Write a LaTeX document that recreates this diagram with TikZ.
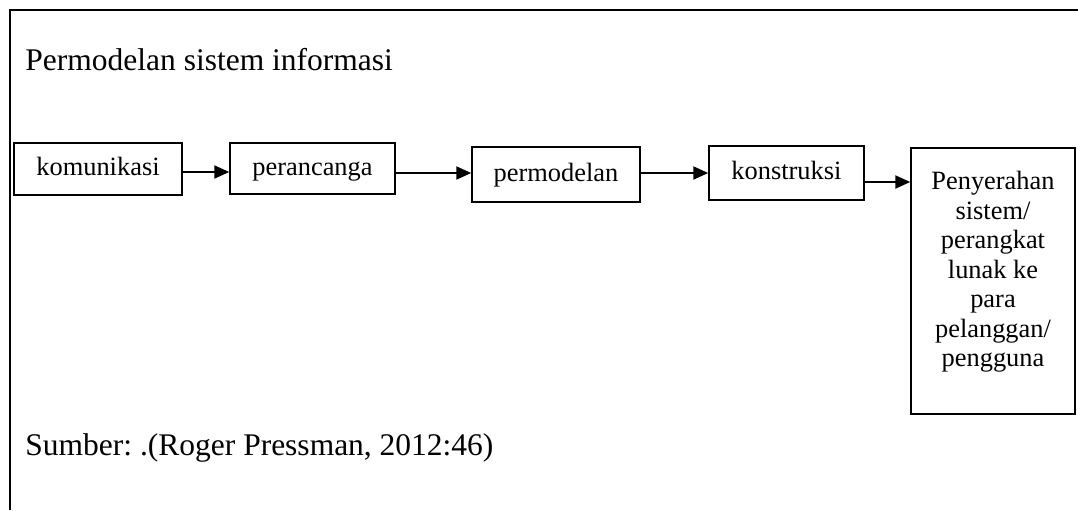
\documentclass[tikz,border=0pt]{standalone}
\usepackage{fontspec}
\setmainfont{Liberation Serif}
\usetikzlibrary{arrows.meta}
\frenchspacing
\begin{document}
\begin{tikzpicture}[x=0.5pt,y=-0.5pt,
  titletext/.style={inner sep=0pt,anchor=base west,font=\fontsize{15.75}{18}\selectfont},
  stage/.style={draw,line width=0.75pt,inner sep=0pt,text height=0.68em,text depth=0pt,
    font=\fontsize{13.2}{14.35}\selectfont},
  arr/.style={line width=1.1pt,-{Triangle[length=7.5pt,width=6.5pt]}},
  frame/.style={line width=1.3pt}]
\useasboundingbox (0,0) rectangle (1078,510);
% frame (top and left only)
\coordinate (fl) at (10,510);
\coordinate (fc) at (10,10);
\coordinate (fr) at (1078,10);
\draw[frame] (fl) -- (fc) -- (fr);
% texts
\node[titletext] (title) at (25,70) {Permodelan sistem informasi};
\node[titletext] (src) at (25,455) {Sumber: .(Roger Pressman, 2012:46)};
% stages
\node[stage,minimum width=84pt,minimum height=26pt] (kom) at (98,169) {komunikasi};
\node[stage,minimum width=82.5pt,minimum height=25.5pt] (per) at (312.5,168.5) {perancanga};
\node[stage,minimum width=84pt,minimum height=27.5pt] (mod) at (556,174.5) {permodelan};
\node[stage,minimum width=77.5pt,minimum height=27pt] (kon) at (786.5,173) {konstruksi};
\node[draw,line width=0.75pt,inner sep=0pt,minimum width=82pt,minimum height=133pt] (pen) at (993,281) {};
\node[inner sep=0pt,anchor=north,align=center,font=\fontsize{13.2}{14.75}\selectfont] (pentext) at ([yshift=-12pt]pen.north)
  {Penyerahan\\sistem/\\perangkat\\lunak ke\\para\\pelanggan/\\pengguna};
% connectors
\coordinate (y1) at (0,172);
\coordinate (y2) at (0,173);
\coordinate (y3) at (0,182);
\draw[arr] (kom.east |- y1) -- (per.west |- y1);
\draw[arr] (per.east |- y2) -- (mod.west |- y2);
\draw[arr] (mod.east |- y2) -- (kon.west |- y2);
\draw[arr] (kon.east |- y3) -- (pen.west |- y3);
\end{tikzpicture}
\end{document}
